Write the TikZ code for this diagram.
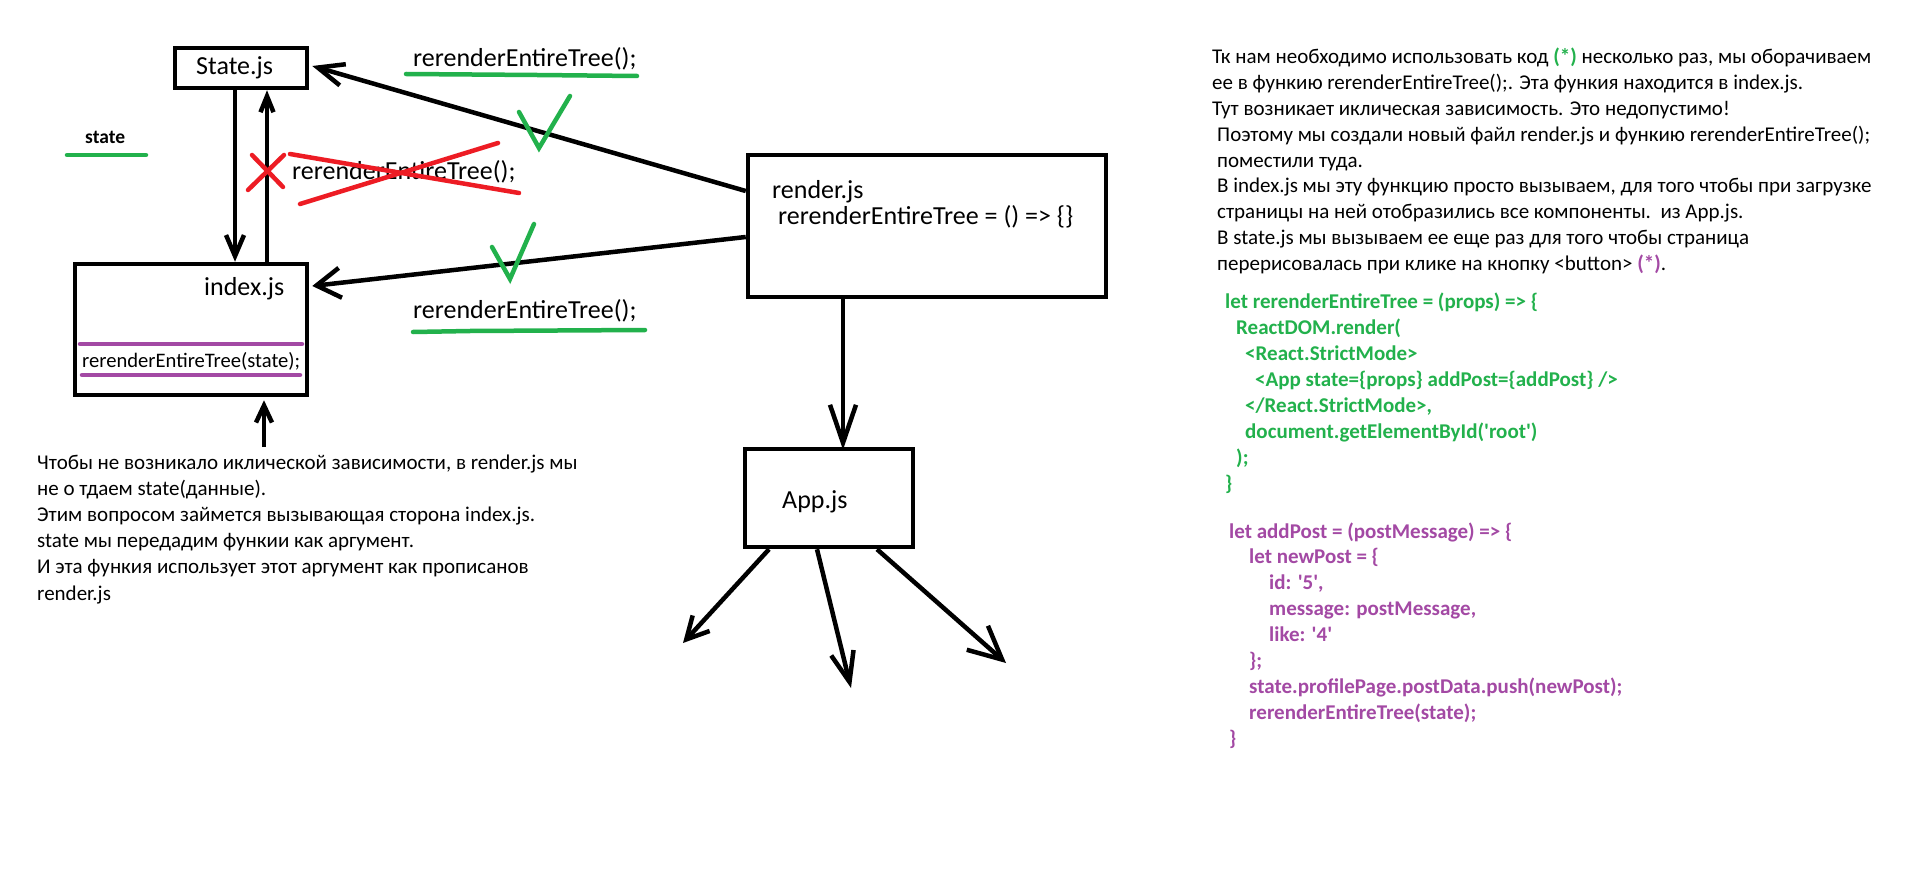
\documentclass[tikz,border=0pt]{standalone}
\usepackage{fontspec}
\setmainfont{Carlito}
\usetikzlibrary{arrows.meta,calc}
\definecolor{pgreen}{RGB}{34,177,76}
\definecolor{pred}{RGB}{237,28,36}
\definecolor{ppurple}{RGB}{163,73,164}

\begin{document}
\begin{tikzpicture}[x=1pt,y=-1pt,
  box/.style={draw, line width=4.5pt, inner sep=0pt},
  lbl/.style={inner sep=0pt, anchor=base west, font=\fontsize{26}{31}\selectfont},
  small/.style={inner sep=0pt, anchor=base west, font=\fontsize{20.6}{25}\selectfont},
  para/.style={inner sep=0pt, anchor=base west, font=\fontsize{21}{26}\selectfont},
  gcode/.style={inner sep=0pt, anchor=base west, text=pgreen, font=\fontsize{21}{26}\selectfont\bfseries},
  pcode/.style={inner sep=0pt, anchor=base west, text=ppurple, font=\fontsize{21}{26}\selectfont\bfseries},
  conn/.style={line width=4.5pt, black},
  tipsz/.style 2 args={-{Straight Barb[length=#1,width=#2]}},
  stroke/.style={line width=4.5pt, line cap=round},
  chk/.style={line width=4.5pt, pgreen, line cap=round, line join=miter},
  cross/.style={line width=4.5pt, pred, line cap=round}]

% canvas
\fill[white] (0,0) rectangle (1914,869);
\useasboundingbox (0,0) rectangle (1914,869);

% ---------- boxes ----------
\node[box, minimum width=132pt, minimum height=40pt] (st) at (241,68) {};
\node[box, minimum width=232pt, minimum height=131pt] (ix) at (191,329.5) {};
\node[box, minimum width=358pt, minimum height=142pt] (rd) at (927,226) {};
\node[box, minimum width=168pt, minimum height=98pt] (ap) at (829,498) {};

\node[lbl] (stt) at (196,75) {State.js};
\node[lbl] (ixt) at (204,295) {index.js};
\node[lbl] (rdt1) at (772,199) {render.js};
\node[lbl] (rdt2) at (778,225) {rerenderEntireTree = () => \{\}};
\node[lbl] (apt) at (782,508) {App.js};

% call inside index.js, framed by two purple bars
\draw[stroke, ppurple] (80,344) -- (302,344);
\draw[stroke, ppurple] (82,375) -- (300,375);
\node[small] (ixcall) at (82,367) {rerenderEntireTree(state);};

% ---------- connectors ----------
\coordinate (dnx) at (235,0);
\coordinate (upx) at (267,0);
\draw[conn, tipsz={21pt}{18pt}] (st.south -| dnx) -- (ix.north -| dnx);
\draw[conn, tipsz={16pt}{13pt}] (ix.north -| upx) -- (st.south -| upx);

\draw[conn, tipsz={26pt}{22pt}] ($(rd.west)+(0,-35)$) -- ($(st.east)+(3,-2)$);
\draw[conn, tipsz={24pt}{30pt}] ($(rd.west)+(0,11)$) -- ($(ix.east)+(3,-43.5)$);
\draw[conn, tipsz={38pt}{26pt}] ($(rd.south)+(-84,0)$) -- ($(ap.north)+(14,3)$);

\coordinate (c1) at (683,643);
\coordinate (c2) at (851,688);
\coordinate (c3) at (1006,663);
\draw[conn, tipsz={22pt}{23pt}] ($(ap.south)+(-60,0)$) -- (c1);
\draw[conn, tipsz={30pt}{23pt}] ($(ap.south)+(-12,0)$) -- (c2);
\draw[conn, tipsz={33pt}{32pt}] ($(ap.south)+(48,0)$) -- (c3);

\coordinate (ib) at (264,447);
\draw[conn, tipsz={17pt}{16pt}] (ib) -- ($(ix.south)+(73,3)$);

% ---------- call labels ----------
\node[lbl] (callup) at (413,67) {rerenderEntireTree();};
\draw[stroke, pgreen] (406,74) -- (537,75) -- (637,76);
\node[lbl] (calldn) at (413,318) {rerenderEntireTree();};
\draw[stroke, pgreen] (413,332) -- (470,331) -- (645,330);
\node[lbl] (callx) at (292,180) {rerenderEntireTree();};

% crossed-out call
\draw[cross] (248,190) -- (284,155);
\draw[cross] (252,155) -- (283,187);
\draw[cross] (290,154) -- (519,193);
\draw[cross] (300,204) -- (498,143);

% accepted calls
\draw[chk] (519,112) -- (539,148) -- (570,96);
\draw[chk] (492,247) -- (510,279) -- (534,224);

% state marker
\node[inner sep=0pt, anchor=base west, font=\fontsize{19.5}{24}\selectfont\bfseries] (stl) at (85,144) {state};
\draw[stroke, pgreen] (67,155) -- (146,155);

% ---------- left note ----------
\node[para] (l1) at (37,469) {Чтобы не возникало иклической зависимости, в render.js мы};
\node[para] (l2) at (37,495.2) {не о тдаем state(данные).};
\node[para] (l3) at (37,521.4) {Этим вопросом займется вызывающая сторона index.js.};
\node[para] (l4) at (37,547.6) {state мы передадим функии как аргумент.};
\node[para] (l5) at (37,573.8) {И эта функия использует этот аргумент как прописанов};
\node[para] (l6) at (37,600) {render.js};

% ---------- right note ----------
\node[para] (r1) at (1212,64) {Тк нам необходимо использовать код \textcolor{pgreen}{\bfseries(*)} несколько раз, мы оборачиваем};
\node[para] (r2) at (1212,89.8) {ее в функию rerenderEntireTree();. Эта функия находится в index.js.};
\node[para] (r3) at (1212,115.6) {Тут возникает иклическая зависимость. Это недопустимо!};
\node[para] (r4) at (1217,141.4) {Поэтому мы создали новый файл render.js и функию rerenderEntireTree();};
\node[para] (r5) at (1217,167.2) {поместили туда.};
\node[para] (r6) at (1217,193) {В index.js мы эту функцию просто вызываем, для того чтобы при загрузке};
\node[para] (r7) at (1217,218.8) {страницы на ней отобразились все компоненты.\ \ из App.js.};
\node[para] (r8) at (1217,244.6) {В state.js мы вызываем ее еще раз для того чтобы страница};
\node[para] (r9) at (1217,270.4) {перерисовалась при клике на кнопку <button> \textcolor{ppurple}{\bfseries(*)}.};

% ---------- render function ----------
\node[gcode] (g1) at (1225,308) {let rerenderEntireTree = (props) => \{};
\node[gcode] (g2) at (1236,334) {ReactDOM.render(};
\node[gcode] (g3) at (1245,360) {<React.StrictMode>};
\node[gcode] (g4) at (1255,386) {<App state=\{props\} addPost=\{addPost\} />};
\node[gcode] (g5) at (1245,412) {</React.StrictMode>,};
\node[gcode] (g6) at (1245,438) {document.getElementById(\textquotesingle root\textquotesingle)};
\node[gcode] (g7) at (1236,464) {);};
\node[gcode] (g8) at (1225,490) {\}};

% ---------- addPost ----------
\node[pcode] (p1) at (1229,538) {let addPost = (postMessage) => \{};
\node[pcode] (p2) at (1249,563.9) {let newPost = \{};
\node[pcode] (p3) at (1269,589.8) {id: \textquotesingle 5\textquotesingle,};
\node[pcode] (p4) at (1269,615.7) {message: postMessage,};
\node[pcode] (p5) at (1269,641.6) {like: \textquotesingle 4\textquotesingle};
\node[pcode] (p6) at (1249,667.5) {\};};
\node[pcode] (p7) at (1249,693.4) {state.profilePage.postData.push(newPost);};
\node[pcode] (p8) at (1249,719.3) {rerenderEntireTree(state);};
\node[pcode] (p9) at (1229,745.2) {\}};

\end{tikzpicture}
\end{document}
